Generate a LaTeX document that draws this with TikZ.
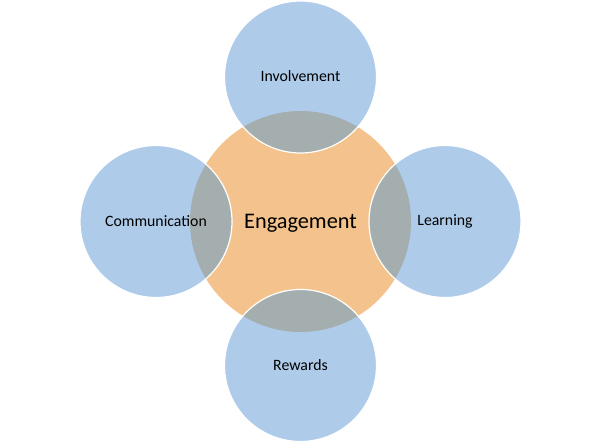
\documentclass[tikz,border=0pt]{standalone}
\usepackage{fontspec}
\setmainfont{Carlito}
\definecolor{cblue}{RGB}{174,204,234}
\definecolor{corange}{RGB}{244,194,140}
\definecolor{cgray}{RGB}{165,174,175}
\definecolor{ctext}{RGB}{0,0,0}
\begin{document}
\begin{tikzpicture}[x=1pt,y=-1pt,
  satellite/.style={circle,minimum size=152pt,inner sep=0pt,fill=cblue},
  hub/.style={circle,minimum size=221pt,inner sep=0pt,fill=corange},
  smalltext/.style={font=\fontsize{15.8}{18}\selectfont,text=ctext},
  bigtext/.style={font=\fontsize{22.3}{26}\selectfont,text=ctext}]
\useasboundingbox (0,0) rectangle (601,443);
\node[hub] (eng) at (300.5,221.5) {};
\node[satellite] (inv) at (300.5,77) {};
\node[satellite] (com) at (156,221.5) {};
\node[satellite] (lea) at (445,221.5) {};
\node[satellite] (rew) at (300.5,365.5) {};
\begin{scope}
  \clip (eng.center) circle (110.5);
  \foreach \n in {inv,com,lea,rew} \fill[cgray] (\n.center) circle (76);
\end{scope}
\foreach \n in {inv,com,lea,rew} \draw[white,line width=1.2pt] (\n.center) circle (76);
\node[bigtext] (engt) at ([yshift=-1.5]eng.center) {Engagement};
\node[smalltext] (invt) at ([yshift=0.5]inv.center) {Involvement};
\node[smalltext] (comt) at ([yshift=0.5]com.center) {Communication};
\node[smalltext] (leat) at ([yshift=0.5]lea.center) {Learning};
\node[smalltext] (rewt) at ([yshift=0.5]rew.center) {Rewards};
\end{tikzpicture}
\end{document}
